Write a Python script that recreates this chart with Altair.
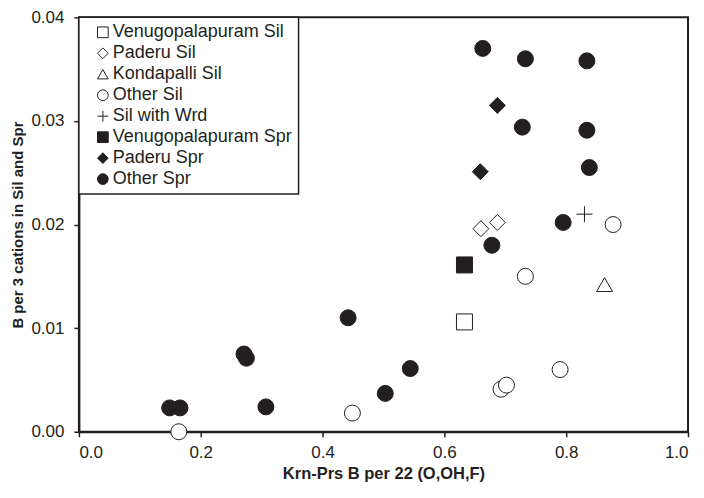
import altair as alt
import pandas as pd

INK = "#231f20"

series_order = [
    "Venugopalapuram Sil", "Paderu Sil", "Kondapalli Sil", "Other Sil",
    "Sil with Wrd", "Venugopalapuram Spr", "Paderu Spr", "Other Spr",
]
shapes = ["square", "diamond", "triangle-up", "circle",
          "M-1,0L1,0M0,-1L0,1", "square", "diamond", "circle"]
fills = ["white", "white", "white", "white", "white", INK, INK, INK]
strokes = [INK] * 8

venu_sil_x = [0.633]
venu_sil_y = [0.0106]
paderu_sil_x = [0.660, 0.687]
paderu_sil_y = [0.0196, 0.0202]
konda_sil_x = [0.863]
konda_sil_y = [0.0142]
other_sil_x = [0.164, 0.449, 0.693, 0.702, 0.790, 0.733, 0.877]
other_sil_y = [0.0000, 0.0018, 0.0041, 0.0045, 0.0060, 0.0150, 0.0200]
wrd_x = [0.830]
wrd_y = [0.0210]
venu_spr_x = [0.633]
venu_spr_y = [0.0161]
paderu_spr_x = [0.687, 0.659]
paderu_spr_y = [0.0315, 0.0251]
other_spr_x = [0.663, 0.733, 0.834, 0.728, 0.834, 0.838, 0.795, 0.678,
               0.442, 0.271, 0.275, 0.307, 0.544, 0.503, 0.149, 0.166]
other_spr_y = [0.0370, 0.0360, 0.0358, 0.0294, 0.0291, 0.0255, 0.0202, 0.0180,
               0.0110, 0.0075, 0.0071, 0.0024, 0.0061, 0.0037, 0.0023, 0.0023]

groups = [
    ("Venugopalapuram Sil", venu_sil_x, venu_sil_y),
    ("Paderu Sil", paderu_sil_x, paderu_sil_y),
    ("Kondapalli Sil", konda_sil_x, konda_sil_y),
    ("Other Sil", other_sil_x, other_sil_y),
    ("Sil with Wrd", wrd_x, wrd_y),
    ("Venugopalapuram Spr", venu_spr_x, venu_spr_y),
    ("Paderu Spr", paderu_spr_x, paderu_spr_y),
    ("Other Spr", other_spr_x, other_spr_y),
]
rows = []
for name, xs, ys in groups:
    for xv, yv in zip(xs, ys):
        rows.append({"series": name, "x": xv, "y": yv})
df = pd.DataFrame(rows)

x_ticks = [0.0, 0.2, 0.4, 0.6, 0.8, 1.0]
y_ticks = [0.00, 0.01, 0.02, 0.03, 0.04]

legend = alt.Legend(
    title=None, orient="none", legendX=0, legendY=0,
    strokeColor=INK, fillColor="white",
    padding=6, symbolOffset=9, labelOffset=1, rowPadding=3,
    symbolSize=115, symbolStrokeWidth=1, symbolStrokeColor=INK,
    labelFontSize=18, labelFont="Liberation Sans", labelColor=INK,
    labelLimit=300,
)

chart = alt.Chart(df).mark_point(
    filled=False, size=256, strokeWidth=1, opacity=1, clip=False
).encode(
    x=alt.X("x:Q", scale=alt.Scale(domain=[0, 1], nice=False),
            axis=alt.Axis(values=x_ticks, format=".1f", labelPadding=8,
                          title="Krn-Prs B per 22 (O,OH,F)", titlePadding=5,
                          titleFontSize=16.5)),
    y=alt.Y("y:Q", scale=alt.Scale(domain=[0, 0.04], nice=False),
            axis=alt.Axis(values=y_ticks, format=".2f", labelPadding=10,
                          title="B per 3 cations in Sil and Spr", titlePadding=5,
                          titleFontSize=15)),
    shape=alt.Shape("series:N", scale=alt.Scale(domain=series_order, range=shapes),
                    legend=legend, sort=series_order),
    fill=alt.Fill("series:N", scale=alt.Scale(domain=series_order, range=fills),
                  legend=legend, sort=series_order),
    stroke=alt.Stroke("series:N", scale=alt.Scale(domain=series_order, range=strokes),
                      legend=legend, sort=series_order),
).properties(
    width=610, height=415,
    autosize=alt.AutoSizeParams(type="none"),
    padding={"left": 71, "top": 9, "right": 8, "bottom": 60},
).configure_view(
    stroke=INK, strokeWidth=2
).configure_legend(
    strokeWidth=1.5
).configure_axis(
    grid=False, domainColor=INK, domainWidth=2, tickColor=INK, tickWidth=1.5,
    tickSize=5, labelFontSize=17, labelFont="Liberation Sans", labelColor=INK,
    titleFont="Liberation Sans", titleFontWeight="bold", titleColor=INK,
)

chart.save("out.html", embed_options={"renderer": "svg", "actions": False})
